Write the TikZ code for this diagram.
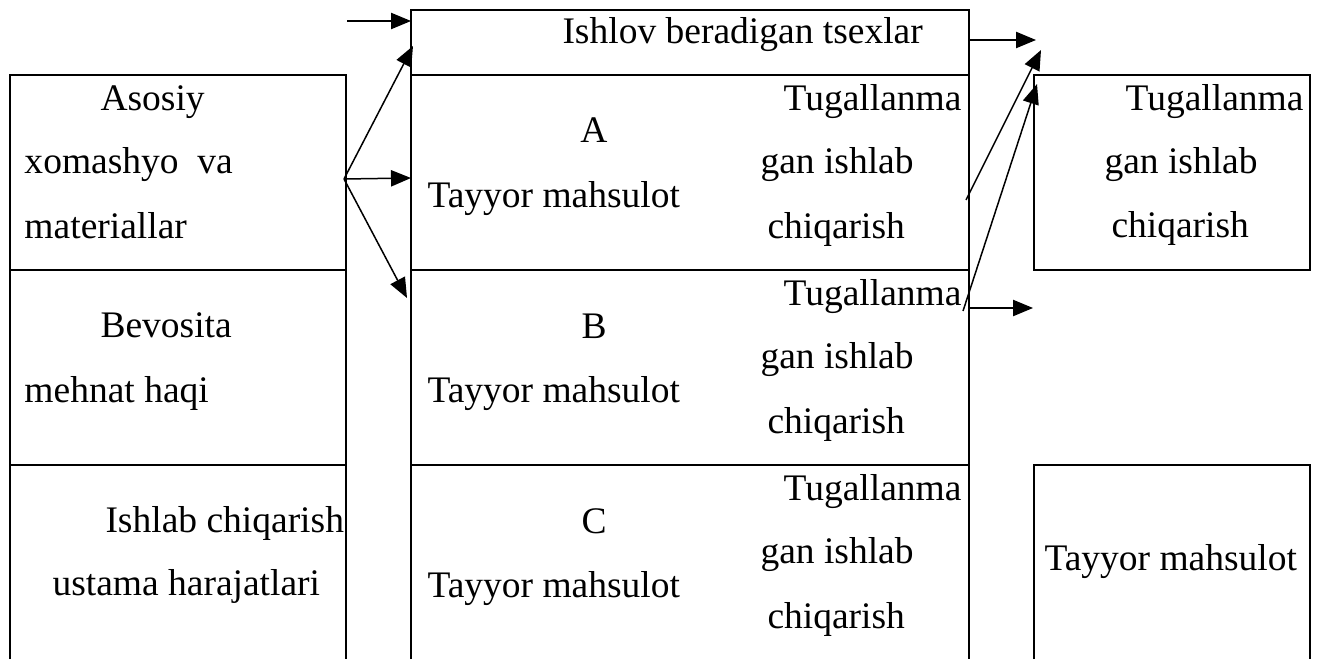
\documentclass[tikz,border=0pt]{standalone}
\usepackage{fontspec}
\setmainfont{Liberation Serif}
\usetikzlibrary{arrows.meta}
\tikzset{
  frame/.style={line width=0.8pt},
  txt/.style={inner sep=0pt,font=\fontsize{15}{18}\selectfont},
  arr/.style={line width=0.6pt,-{Triangle[length=8pt,width=6.5pt]}}
}
\begin{document}
\begin{tikzpicture}[x=0.4pt,y=-0.4pt]
\pgfmathsetmacro{\rA}{75}
\pgfmathsetmacro{\rB}{270}
\pgfmathsetmacro{\rC}{465}
\pgfmathsetmacro{\bot}{659}
\useasboundingbox(0,0)rectangle(1324,\bot);
%
\draw[frame](10,\bot)--(10,\rA)--(346,\rA)--(346,\bot);
\draw[frame](10,\rB)--(346,\rB);
\draw[frame](10,\rC)--(346,\rC);
\draw[frame](411,\bot)--(411,10)--(969,10)--(969,\bot);
\foreach \y in {\rA,\rB,\rC}\draw[frame](411,\y)--(969,\y);
\draw[frame](1034,\rA)rectangle(1310,\rB);
\draw[frame](1034,\bot)--(1034,\rC)--(1310,\rC)--(1310,\bot);
%
\node[txt,anchor=base west](asosiy)at(100,110){Asosiy};
\node[txt,anchor=base west](xomashyo)at(24,173){xomashyo\ \ va};
\node[txt,anchor=base west](material)at(24,238){materiallar};
\node[txt,anchor=base west](bevosita)at(100,337){Bevosita};
\node[txt,anchor=base west](mehnat)at(24,402){mehnat haqi};
\node[txt,anchor=base west](ustamaA)at(105,532){Ishlab chiqarish};
\node[txt,anchor=base west](ustamaB)at(52,595){ustama harajatlari};
%
\node[txt,anchor=base west](tsex)at(562,44){Ishlov beradigan tsexlar};
\foreach \r/\n in {\rA/A,\rB/B,\rC/C}{
  \node[txt,anchor=base](sex\n)at(594,\r+68){\n};
  \node[txt,anchor=base west](tayyor\n)at(427,\r+132){Tayyor mahsulot};
  \node[txt,anchor=base east](tugA\n)at(962,\r+35){Tugallanma};
  \node[txt,anchor=base west](tugB\n)at(760,\r+98){gan ishlab};
  \node[txt,anchor=base west](tugC\n)at(767,\r+163){chiqarish};
}
%
\node[txt,anchor=base east](outtugA)at(1304,110){Tugallanma};
\node[txt,anchor=base west](outtugB)at(1104,173){gan ishlab};
\node[txt,anchor=base west](outtugC)at(1111,237){chiqarish};
\node[txt,anchor=base west](outtayyor)at(1044,570){Tayyor mahsulot};
%
\coordinate(inS)at(347,21);
\coordinate(inE)at(411,21);
\coordinate(fan)at(344,179);
\coordinate(fanA)at(413,46);
\coordinate(fanB)at(411,178);
\coordinate(fanC)at(407,298);
\draw[arr](inS)--(inE);
\draw[arr](fan)--(fanA);
\draw[arr](fan)--(fanB);
\draw[arr](fan)--(fanC);
%
\coordinate(outS)at(969,40);
\coordinate(outE)at(1036,40);
\coordinate(upAS)at(966,200);
\coordinate(upAE)at(1041,50);
\coordinate(upBS)at(963,311);
\coordinate(upBE)at(1037,84);
\coordinate(sideS)at(969,308);
\coordinate(sideE)at(1033,308);
\draw[arr](outS)--(outE);
\draw[arr](upAS)--(upAE);
\draw[arr](upBS)--(upBE);
\draw[arr](sideS)--(sideE);
\end{tikzpicture}
\end{document}
